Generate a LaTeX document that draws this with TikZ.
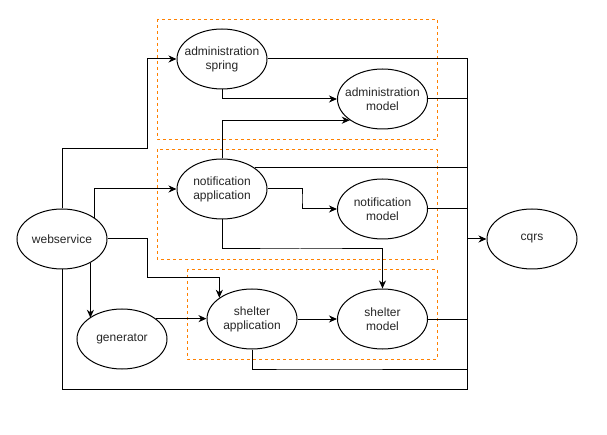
\documentclass[tikz,border=0pt]{standalone}
\usepackage{fontspec}
\setmainfont{Liberation Sans}
\usetikzlibrary{shapes.geometric,arrows.meta}
\definecolor{grporange}{RGB}{255,128,0}
\begin{document}
\begin{tikzpicture}[x=1pt,y=-1pt,
  ell/.style={ellipse,draw,fill=white,line width=1pt,minimum width=90pt,minimum height=60pt,inner xsep=-12pt,inner ysep=0pt,align=center,font=\fontsize{12}{14}\selectfont,text=black!85},
  wire/.style={line width=1pt},
  arr/.style={wire,-{Stealth[length=8pt,width=7pt,inset=2.5pt]}},
  grp/.style={draw=grporange,dash pattern=on 3pt off 3pt,line width=0.8pt}]
\useasboundingbox (0,0) rectangle (607,435);
% groups
\draw[grp] (157,19) rectangle (437,139);
\draw[grp] (157,149) rectangle (437,259);
\draw[grp] (187,269) rectangle (437,359);
% nodes
\node[ell] (as) at (222,59) {administration\\spring};
\node[ell] (am) at (382.5,99) {administration\\model};
\node[ell] (na) at (222,189) {notification\\application};
\node[ell] (nm) at (382.5,209) {notification\\model};
\node[ell] (ws) at (62,239) {webservice};
\node[ell] (cq) at (532,239) {cqrs};
\node[ell] (gen) at (122,339) {generator};
\node[ell] (sa) at (252,319) {shelter\\application};
\node[ell] (sm) at (382.5,319) {shelter\\model};
% helper coordinates
\coordinate (bustop) at (467,59);
\coordinate (busbot) at (467,389);
\coordinate (c1) at (147,278);
\coordinate (c2) at (147,149);
\coordinate (c3) at (302,199);
\coordinate (c4) at (300,249);
\coordinate (c5) at (300,369);
% bus
\draw[wire] (as.east) -- (bustop) -- (busbot) -| (ws.south);
\draw[arr] (cq.west -| bustop) -- (cq.west);
% connectors
\draw[arr] (as.south) |- (am.west);
\draw[wire] (am.east) -- (am.east -| bustop);
\draw[arr] (na.north) |- (am.213);
\draw[wire] (na.33) -- (na.33 -| bustop);
\draw[arr] (na.east) -| (c3) |- (nm.west);
\draw[wire] (nm.east) -- (nm.east -| bustop);
\draw[arr] (na.south) |- (c4) -| (sm.north);
\draw[arr] (ws.north) |- (c2) |- (as.west);
\draw[arr] (ws.33) |- (na.west);
\draw[arr] (ws.east) -| (c1) -| (sa.147);
\draw[arr] (ws.-40) -- (ws.-40 |- gen.147);
\draw[arr] (gen.31) -- (gen.31 -| sa.west);
\draw[arr] (sa.east) -- (sm.west);
\draw[wire] (sa.south) |- (c5) -- (c5 -| bustop);
\draw[wire] (sm.east) -- (sm.east -| bustop);
\end{tikzpicture}
\end{document}
